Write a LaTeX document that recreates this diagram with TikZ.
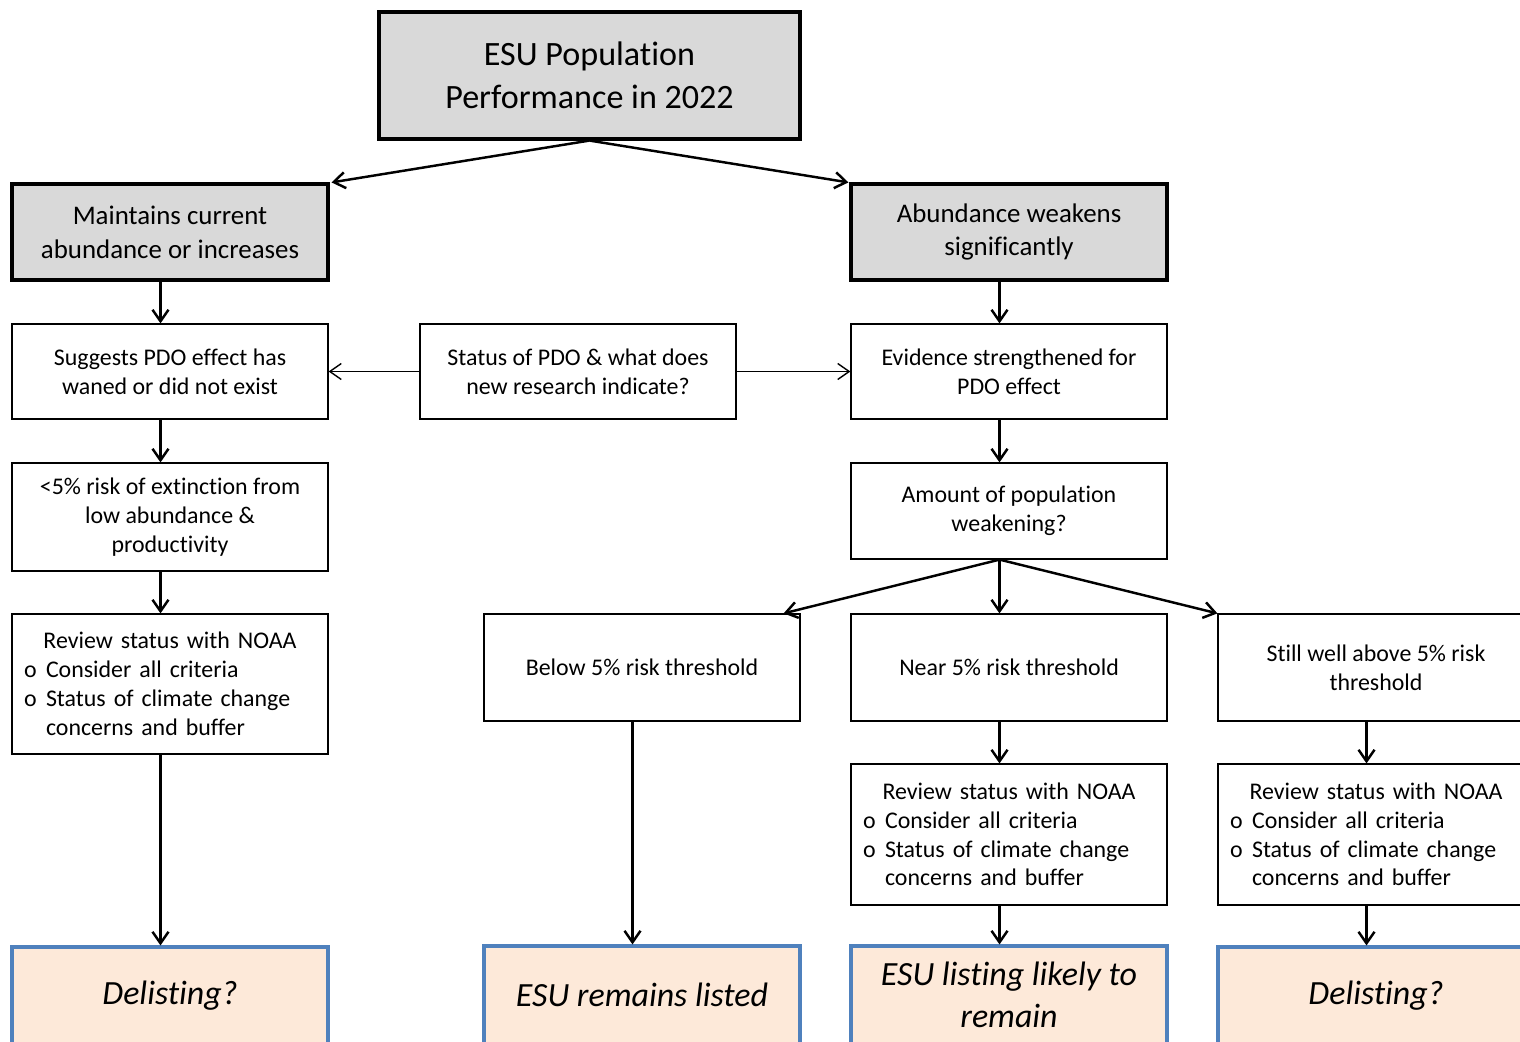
\documentclass[tikz,border=0pt]{standalone}
\usepackage{fontspec}
\setmainfont{Carlito}[Ligatures={NoCommon}]
\usetikzlibrary{arrows.meta}
\definecolor{boxgray}{HTML}{D9D9D9}
\definecolor{endfill}{HTML}{FDE9D9}
\definecolor{endline}{HTML}{4F81BD}
\newcommand{\obul}{\makebox[0.44cm][l]{o}}
\newcommand{\reviewtext}{\makebox[5.84cm][c]{Review status with NOAA}\\
  \obul Consider all criteria\\
  \obul Status of climate change\\
  \hspace*{0.44cm}concerns and buffer}

\begin{document}
\begin{tikzpicture}[x=0.02cm,y=-0.02cm,
  >={Straight Barb[length=0.23cm,width=0.32cm]},
  plain/.style={draw,line width=0.7pt,fill=white,minimum width=6.32cm,minimum height=1.9cm,
    inner sep=0pt,align=center,font=\fontsize{13.6}{16.4}\selectfont},
  topbox/.style={draw,line width=1.8pt,fill=boxgray,minimum width=6.32cm,minimum height=1.92cm,
    inner sep=0pt,align=center,font=\fontsize{15.3}{19.3}\selectfont},
  review/.style={plain,text width=5.84cm,inner xsep=0.24cm,align=left,minimum height=2.8cm},
  endbox/.style={draw=endline,line width=1.8pt,fill=endfill,minimum width=6.32cm,minimum height=1.96cm,
    inner sep=0pt,align=center,font=\fontsize{19.3}{23.8}\selectfont\itshape},
  link/.style={->,line width=1.4pt},
  thinlink/.style={->,line width=0.8pt}]
\useasboundingbox (0,0) rectangle (1520,1041);
\clip (0,0) rectangle (1520,1041);

% top of the tree
\node[topbox,minimum width=8.42cm,minimum height=2.54cm,font=\fontsize{19.4}{24.4}\selectfont] (title) at (589.5,75.5) {ESU Population\\Performance in 2022};
\node[topbox] (keep) at (170,232) {Maintains current\\abundance or increases};
\node[topbox] (weak) at (1009,232) {Abundance weakens\\significantly};

% PDO row
\node[plain] (waned) at (170,371.5) {Suggests PDO effect has\\waned or did not exist};
\node[plain] (status) at (578,371.5) {Status of PDO \& what does\\new research indicate?};
\node[plain] (evid) at (1009,371.5) {Evidence strengthened for\\PDO effect};

\node[plain,minimum height=2.16cm] (risk) at (170,517) {<5\% risk of extinction from\\low abundance \&\\productivity};
\node[plain,minimum height=1.92cm] (amount) at (1009,511) {Amount of population\\weakening?};

% thresholds
\node[review] (revleft) at (170,684) {\reviewtext};
\node[plain,minimum height=2.14cm] (below) at (642,667.5) {Below 5\% risk threshold};
\node[plain,minimum height=2.14cm] (near) at (1009,667.5) {Near 5\% risk threshold};
\node[plain,minimum height=2.14cm] (still) at (1376,667.5) {Still well above 5\% risk\\threshold};
\node[review,minimum height=2.82cm] (revnear) at (1009,834.5) {\reviewtext};
\node[review,minimum height=2.82cm] (revstill) at (1376,834.5) {\reviewtext};

% outcomes
\node[endbox] (delist1) at (170,996) {Delisting?};
\node[endbox] (listed) at (642,995) {ESU remains listed};
\node[endbox] (likely) at (1009,995) {ESU listing likely to\\remain};
\node[endbox] (delist2) at (1376,996) {Delisting?};

% arrows
\draw[link] (title.south) -- ([xshift=0.04cm]keep.north east);
\draw[link] (title.south) -- ([xshift=-0.02cm]weak.north west);
\draw[thinlink] (status.west) -- (waned.east);
\draw[thinlink] (status.east) -- (evid.west);
\foreach \a/\b in {keep/waned,waned/risk,risk/revleft,revleft/delist1,below/listed,
    weak/evid,evid/amount,amount/near,near/revnear,revnear/likely,still/revstill,revstill/delist2}
  \draw[link] ([xshift=-0.19cm]\a.south) -- ([xshift=-0.19cm]\b.north);
\draw[link] ([xshift=-0.19cm]amount.south) -- ([xshift=-0.34cm]below.north east);
\draw[link] ([xshift=-0.19cm]amount.south) -- (still.north west);
\end{tikzpicture}
\end{document}
